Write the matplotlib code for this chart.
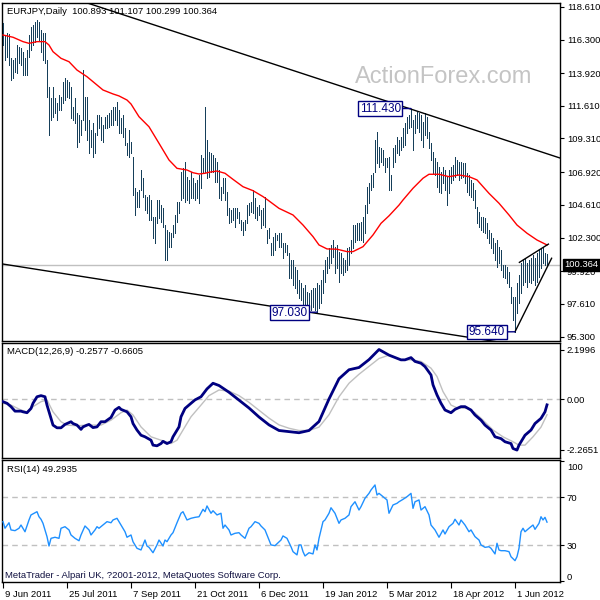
import matplotlib
matplotlib.use("Agg")
import matplotlib.pyplot as plt
from matplotlib.transforms import ScaledTranslation, blended_transform_factory

# ---------------- data ----------------
symbol_title = "EURJPY,Daily  100.893 101.107 100.299 100.364"
macd_title = "MACD(12,26,9) -0.2577 -0.6605"
rsi_title = "RSI(14) 49.2935"
copyright_text = "MetaTrader - Alpari UK, ?2001-2012, MetaQuotes Software Corp."
watermark = "ActionForex.com"

bar_high = [
    117.46, 116.63, 116.75, 116.70, 114.98, 114.86, 114.98, 115.93, 115.81, 115.69,
    115.45, 114.98, 115.57, 116.63, 117.22, 117.34, 117.58, 117.69, 117.58, 116.99,
    116.75, 116.75, 114.86, 112.98, 112.15, 112.98, 112.15, 111.80, 112.39, 112.27,
    113.33, 113.57, 113.45, 113.33, 112.98, 111.56, 112.15, 111.09, 110.97, 110.62,
    114.16, 112.27, 112.27, 110.62, 109.91, 110.39, 109.68, 110.97, 110.97, 110.86,
    110.27, 110.86, 110.97, 111.09, 111.33, 111.56, 111.56, 111.92, 111.33, 110.74,
    110.97, 110.03, 108.97, 109.91, 109.09, 108.03, 105.79, 105.55, 105.67, 107.08,
    106.49, 105.31, 105.20, 105.31, 104.96, 103.78, 103.78, 104.96, 104.96, 104.61,
    104.37, 103.19, 102.84, 102.72, 102.60, 103.19, 103.90, 104.84, 104.84, 106.96,
    107.20, 107.67, 106.61, 106.38, 106.96, 106.49, 106.14, 106.38, 106.73, 108.14,
    107.91, 111.56, 109.20, 108.38, 108.26, 108.14, 107.91, 107.67, 107.08, 105.90,
    106.49, 106.49, 105.55, 104.37, 104.25, 104.37, 104.37, 104.37, 104.14, 103.55,
    103.43, 103.55, 104.61, 104.73, 104.84, 105.67, 105.08, 104.49, 104.61, 104.25,
    104.37, 105.19, 102.84, 102.95, 101.89, 102.37, 102.60, 102.48, 102.60, 102.60,
    101.89, 101.89, 101.78, 101.19, 100.71, 100.71, 100.24, 100.01, 99.30, 99.06,
    98.71, 98.95, 98.48, 98.36, 98.59, 98.71, 98.71, 99.06, 98.95, 99.30,
    100.01, 100.71, 100.95, 101.54, 101.78, 102.13, 101.66, 101.78, 101.30, 101.19,
    100.83, 100.71, 101.54, 101.66, 102.13, 103.19, 103.19, 103.31, 103.31, 103.43,
    103.78, 104.60, 105.90, 106.14, 106.73, 106.84, 109.20, 109.79, 108.73, 108.61,
    108.49, 107.91, 107.91, 108.02, 106.73, 108.62, 108.85, 109.44, 109.20, 109.44,
    110.03, 110.38, 110.85, 110.97, 111.43, 110.62, 110.97, 111.21, 111.09, 110.97,
    110.50, 111.09, 110.85, 109.79, 108.97, 108.38, 107.91, 107.67, 107.32, 106.96,
    107.32, 107.08, 106.61, 107.08, 107.32, 107.44, 108.03, 107.79, 107.67, 107.67,
    107.55, 107.55, 106.85, 106.73, 106.38, 106.14, 105.67, 104.49, 104.14, 103.78,
    103.78, 103.66, 103.31, 102.84, 102.60, 102.25, 101.90, 102.13, 101.66, 101.43,
    100.36, 100.36, 100.25, 99.89, 98.83, 98.12, 98.12, 99.07, 99.66, 100.48,
    100.72, 100.84, 100.48, 100.72, 100.84, 101.07, 100.84, 101.19, 101.43, 101.54,
    101.66, 101.19, 101.107,
]
bar_low = [
    115.93, 114.86, 115.10, 114.51, 113.45, 113.57, 114.04, 113.92, 114.63, 114.51,
    113.80, 113.80, 113.80, 115.10, 115.57, 115.93, 116.16, 116.51, 116.28, 115.45,
    114.86, 114.63, 112.27, 109.56, 110.62, 110.86, 111.09, 110.62, 111.33, 111.33,
    111.80, 112.04, 112.27, 112.15, 110.74, 110.62, 110.39, 108.74, 109.09, 109.56,
    110.62, 109.91, 109.21, 108.26, 108.74, 108.03, 108.26, 109.56, 110.03, 109.21,
    109.09, 110.03, 110.03, 110.15, 110.27, 110.27, 110.62, 110.27, 109.68, 109.68,
    109.44, 108.85, 108.15, 108.03, 108.26, 105.31, 103.90, 104.49, 104.49, 105.67,
    105.20, 104.25, 104.02, 103.55, 103.55, 102.25, 101.90, 103.31, 103.66, 103.43,
    103.08, 100.72, 100.72, 101.66, 101.66, 102.37, 102.60, 103.43, 104.02, 104.96,
    105.08, 104.84, 104.96, 104.73, 105.08, 105.08, 104.96, 105.08, 104.73, 105.79,
    106.96, 106.96, 106.49, 106.61, 106.96, 106.96, 106.26, 106.26, 105.08, 104.96,
    105.43, 104.96, 103.90, 103.31, 103.43, 103.55, 103.08, 103.66, 103.31, 102.84,
    102.49, 102.84, 103.31, 103.90, 104.14, 104.02, 103.66, 103.55, 103.90, 102.96,
    103.19, 103.07, 101.89, 102.25, 101.07, 101.07, 101.42, 102.13, 101.66, 101.66,
    100.83, 101.30, 101.07, 99.42, 99.42, 98.95, 98.71, 98.36, 98.00, 97.89,
    97.41, 97.41, 97.41, 97.20, 97.18, 97.41, 97.18, 97.03, 97.30, 97.65,
    98.36, 99.18, 99.77, 100.13, 100.48, 100.95, 99.77, 100.13, 99.18, 99.77,
    99.65, 99.89, 100.01, 100.36, 101.19, 101.54, 102.01, 102.13, 102.13, 102.13,
    102.01, 102.60, 104.02, 104.72, 105.67, 105.90, 106.96, 107.55, 107.32, 107.67,
    107.43, 106.96, 107.32, 105.67, 105.67, 107.32, 107.67, 108.26, 108.14, 108.50,
    108.73, 108.85, 109.68, 110.03, 110.15, 108.50, 109.68, 110.03, 109.79, 109.20,
    108.73, 109.56, 109.32, 108.62, 107.79, 106.85, 106.73, 105.90, 105.55, 105.43,
    106.14, 105.67, 104.61, 105.43, 106.14, 106.38, 106.61, 106.73, 106.38, 106.49,
    106.61, 106.14, 105.55, 105.31, 105.20, 104.96, 104.37, 103.31, 103.08, 102.84,
    102.72, 102.60, 102.25, 101.90, 101.54, 101.19, 100.72, 100.25, 100.48, 100.01,
    99.54, 99.42, 99.07, 98.83, 97.65, 96.47, 95.64, 96.95, 97.65, 98.36,
    98.95, 99.19, 98.83, 99.19, 99.07, 99.30, 98.95, 99.19, 99.54, 100.13,
    100.48, 100.36, 100.299,
]
last_close = 100.364

ma_idx = [0, 5, 10, 13, 17, 21, 23, 25, 29, 33, 37, 42, 46, 50, 55, 58, 62, 64, 68, 73,
          78, 83, 87, 92, 95, 98, 101, 103, 107, 111, 115, 120, 125, 130, 132, 138, 145, 150, 155, 158,
          162, 167, 172, 175, 180, 185, 189, 193, 198, 200, 205, 210, 213, 218, 223, 228, 233, 237, 243, 248,
          253, 257, 262, 267, 272]
ma_val = [116.63, 116.47, 116.16, 116.04, 116.16, 116.16, 115.92, 115.45, 114.98, 114.74,
          114.15, 113.68, 113.21, 112.74, 112.46, 112.32, 112.03, 111.75, 110.85, 110.14,
          108.97, 107.79, 107.20, 107.08, 106.89, 106.80, 106.85, 106.92, 107.01, 106.85,
          106.42, 105.90, 105.62, 105.20, 105.00, 104.37, 103.90, 103.19, 102.37, 101.78,
          101.50, 101.48, 101.31, 101.31, 101.66, 102.49, 103.31, 103.84, 104.60, 104.96,
          105.79, 106.50, 106.78, 106.78, 106.61, 106.73, 106.61, 106.38, 105.43, 104.73,
          103.90, 103.19, 102.61, 102.13, 101.78]

# trendlines (bar index, price)
upper_trend = [(98.5, 116.28), (278.5, 107.93)]
lower_trend = [(0.0, 100.43), (235.0, 95.20)]
wedge_low = [(256.0, 95.64), (274.3, 100.84)]
wedge_high = [(258.2, 100.55), (272.7, 101.84)]

# price labels: text, text position (idx, price), target bar (idx, price)
price_marks = [("111.430", (188.7, 111.43), (204, 111.43)),
               ("97.030", (143.3, 96.98), (157, 97.03)),
               ("95.640", (242.0, 95.63), (256, 95.64))]

price_ticks = [118.61, 116.30, 113.92, 111.61, 109.31, 106.92, 104.61, 102.30, 99.92, 97.61, 95.30]
price_tick_labels = ["118.610", "116.300", "113.920", "111.610", "109.310", "106.920",
                     "104.610", "102.300", "99.920", "97.610", "95.300"]

macd_idx = [0, 2, 4, 6, 9, 10, 12, 14, 15, 17, 19, 21, 22, 24, 25, 27, 29, 31, 34, 35,
            37, 39, 40, 42, 43, 45, 47, 49, 51, 54, 56, 58, 59, 62, 64, 65, 67, 69, 71, 74,
            75, 77, 79, 80, 82, 84, 85, 88, 89, 91, 94, 96, 99, 102, 105, 108, 113, 118, 123, 128,
            133, 138, 143, 148, 153, 158, 163, 168, 173, 178, 183, 188, 193, 199, 201, 204, 206, 209,
            211, 214, 215, 217, 219, 221, 224, 226, 229, 231, 234, 236, 239, 241, 244, 246, 249, 251, 254, 255,
            257, 258, 261, 264, 266, 269, 271, 272]
macd_main = [-0.12, -0.19, -0.34, -0.54, -0.54, -0.57, -0.61, -0.42, -0.19, 0.10,
             0.15, 0.10, -0.27, -0.86, -1.16, -1.28, -1.28, -1.13, -1.01, -1.09,
             -1.16, -1.35, -1.24, -1.16, -1.13, -1.27, -1.24, -1.01, -1.01, -0.82,
             -0.49, -0.37, -0.46, -0.57, -0.79, -1.09, -1.38, -1.61, -1.68, -1.83,
             -2.05, -2.08, -1.98, -1.88, -1.98, -1.90, -1.68, -1.24, -0.79, -0.42,
             -0.19, -0.04, 0.10, 0.45, 0.70, 0.60, 0.30, -0.05, -0.40, -0.80,
             -1.15, -1.40, -1.45, -1.50, -1.40, -1.00, 0.00, 0.90, 1.30, 1.40,
             1.75, 2.20, 1.95, 1.74, 1.74, 1.84, 1.67, 1.59,
             1.44, 1.07, 0.63, 0.18, -0.19, -0.49, -0.61, -0.46, -0.34, -0.34,
             -0.49, -0.71, -0.94, -1.16, -1.38, -1.68, -1.76, -1.90, -1.98, -2.20,
             -2.27, -2.05, -1.61, -1.38, -1.09, -0.86, -0.57, -0.26]
sig_idx = [0, 4, 9, 12, 15, 19, 22, 25, 29, 32, 37, 42, 49, 54, 59, 62, 65, 69, 74, 79,
           84, 87, 90, 94, 99, 103, 108, 113, 118, 123, 128, 133, 138, 143, 148, 153, 158, 163, 168, 173,
           178, 183, 188, 193, 199, 204, 209, 214, 217, 220, 224, 227, 232, 236, 240, 245, 250, 255, 258, 261,
           265, 269, 272]
macd_signal = [-0.19, -0.27, -0.49, -0.57, -0.34, -0.12, -0.04, -0.57, -1.01, -1.16,
               -1.19, -1.16, -1.16, -0.94, -0.61, -0.49, -0.71, -1.24, -1.68, -1.83,
               -1.98, -1.83, -1.38, -0.79, -0.27, 0.15, 0.40, 0.35, 0.15, -0.15,
               -0.50, -0.85, -1.15, -1.30, -1.40, -1.40, -1.25, -0.70, 0.10, 0.70,
               1.10, 1.45, 1.80, 1.95, 1.74, 1.74, 1.67, 1.37, 1.00, 0.33,
               -0.27, -0.39, -0.42, -0.61, -0.94, -1.38, -1.68, -1.90, -2.05, -2.05,
               -1.68, -1.25, -0.70]
macd_ticks = [2.1996, 0.0, -2.2651]
macd_tick_labels = ["2.1996", "0.00", "-2.2651"]

rsi_idx = [0, 1, 3, 4, 6, 8, 9, 11, 13, 14, 17, 18, 19, 20, 22, 23, 24, 26, 28, 29,
           31, 33, 34, 36, 38, 39, 41, 43, 44, 46, 47, 48, 50, 52, 54, 55, 57, 59, 61, 62,
           64, 65, 67, 69, 71, 72, 73, 75, 77, 78, 80, 81, 82, 84, 85, 87, 89, 90, 92, 94,
           96, 98, 100, 101, 102, 104, 105, 107, 109, 110, 111, 113, 114, 116, 118, 119, 121, 123, 124, 126,
           128, 129, 131, 133, 134, 136, 139, 140, 142, 144, 145, 147, 148, 149, 150, 151, 153, 155, 156, 157,
           158, 160, 161, 163, 164, 166, 168, 169, 171, 173, 174, 176, 178, 179, 181, 183, 184, 186, 187, 188,
           190, 192, 193, 195, 197, 198, 200, 202, 204, 205, 206, 208, 209, 211, 213, 214, 216, 218, 220, 221,
           223, 225, 226, 228, 229, 231, 233, 234, 236, 238, 239, 241, 243, 244, 246, 247, 248, 249, 251, 253,
           254, 256, 257, 258, 259, 260, 261, 263, 265, 266, 268, 269, 270, 271, 272]
rsi_val = [49.7, 44.2, 48.8, 42.8, 42.2, 44.2, 46.9, 41.3, 51.1, 55.3, 58.0, 53.8, 51.7, 48.3, 37.2, 29.4, 35.8, 36.7, 35.8, 44.2,
           45.5, 42.8, 38.6, 35.8, 33.8, 38.6, 46.1, 42.8, 38.6, 42.8, 45.5, 44.2, 46.9, 49.7, 48.8, 51.1, 52.5, 46.9, 41.3, 36.7,
           38.6, 33.0, 27.5, 26.1, 34.4, 29.4, 28.3, 23.8, 30.3, 34.4, 29.4, 34.4, 33.0, 38.6, 40.5, 48.8, 56.7, 58.0, 51.1, 52.5,
           53.3, 53.8, 60.0, 58.0, 62.8, 56.7, 58.8, 55.3, 56.7, 44.2, 46.9, 42.8, 38.6, 40.0, 40.5, 38.6, 35.8, 44.2, 45.5, 49.7,
           48.3, 46.1, 42.8, 34.4, 30.3, 29.7, 34.4, 37.8, 35.8, 28.8, 24.7, 22.0, 30.3, 30.3, 24.7, 21.1, 23.8, 22.8, 30.3, 26.1,
           35.8, 49.7, 51.1, 56.7, 61.3, 56.7, 48.3, 51.1, 52.5, 55.3, 62.2, 66.3, 59.4, 62.2, 69.2, 73.3, 76.1, 80.3, 71.9, 73.3,
           70.5, 67.8, 56.7, 63.6, 65.0, 66.3, 68.3, 70.5, 73.3, 60.8, 66.3, 67.8, 59.4, 62.2, 55.3, 46.9, 42.8, 36.7, 42.8, 39.4,
           45.5, 48.3, 51.7, 46.9, 51.1, 46.9, 41.3, 42.8, 37.2, 34.4, 30.3, 28.3, 28.8, 27.5, 22.8, 31.7, 26.1, 25.5, 25.5, 24.7,
           20.5, 17.2, 20.5, 27.5, 41.3, 44.2, 41.3, 44.2, 46.9, 43.3, 48.3, 53.8, 51.1, 53.3, 49.3]
rsi_levels = [70, 30]
rsi_ticks = [100, 70, 30, 0]
rsi_tick_labels = ["100", "70", "30", "0"]

date_idx = [0, 32, 64, 96, 128, 160, 192, 224, 256]
date_labels = ["9 Jun 2011", "25 Jul 2011", "7 Sep 2011", "21 Oct 2011", "6 Dec 2011",
               "19 Jan 2012", "5 Mar 2012", "18 Apr 2012", "1 Jun 2012"]

# ---------------- style ----------------
FONT = ["Liberation Sans", "DejaVu Sans"]
FS = 6.8
BAR_C = "#163f5a"
NAVY = "#000080"
GREY = "#c0c0c0"
W = H = 600

fig = plt.figure(figsize=(6, 6), dpi=100, facecolor="white")


def rect(x0, y0, x1, y1):
    return [x0 / W, 1 - y1 / H, (x1 - x0) / W, (y1 - y0) / H]


axp = fig.add_axes(rect(2, 2.5, 560, 341))
axm = fig.add_axes(rect(2, 343, 560, 458))
axr = fig.add_axes(rect(2, 460, 560, 582))

n = len(bar_high)
idx = list(range(n))
xlim = (-0.5, 278.5)

for ax in (axp, axm, axr):
    ax.set_xlim(*xlim)
    ax.set_facecolor("white")
    for s in ax.spines.values():
        s.set_linewidth(1.0)
        s.set_color("black")
    ax.yaxis.tick_right()
    ax.tick_params(axis="y", direction="out", length=3, width=0.8, pad=2,
                   labelsize=FS, colors="black")
    ax.set_xticks([])

# price panel
axp.set_ylim(94.988, 118.928)
axp.axhline(last_close, color=GREY, lw=1.0, zorder=1)
axp.vlines(idx, bar_low, bar_high, color=BAR_C, lw=0.5, zorder=3,
           antialiased=False, snap=True)
axp.plot(ma_idx, ma_val, color="#ff0000", lw=1.0, zorder=4)


def extend(p, q, x0, x1):
    (xa, ya), (xb, yb) = p, q
    s = (yb - ya) / (xb - xa)
    return [x0, x1], [ya + s * (x0 - xa), ya + s * (x1 - xa)]


for line in (upper_trend, lower_trend):
    xs, ys = extend(line[0], line[1], xlim[0], xlim[1])
    axp.plot(xs, ys, color="black", lw=1.0, zorder=5)
for seg in (wedge_low, wedge_high):
    axp.plot([seg[0][0], seg[1][0]], [seg[0][1], seg[1][1]], color="black", lw=1.0, zorder=5)

for txt, tpos, target in price_marks:
    axp.annotate(txt, xy=target, xytext=tpos, ha="center", va="center",
                 fontsize=8.5, color=NAVY, family=FONT, zorder=7,
                 bbox=dict(boxstyle="square,pad=0.12", fc="white", ec=NAVY, lw=1.0),
                 arrowprops=dict(arrowstyle="-", color=NAVY, lw=1.0,
                                 shrinkA=0, shrinkB=0))

axp.set_yticks(price_ticks)
axp.set_yticklabels(price_tick_labels, family=FONT)
axp.annotate(f"{last_close:.3f}", xy=(1.0, last_close),
             xycoords=blended_transform_factory(axp.transAxes, axp.transData),
             xytext=(4, 0), textcoords="offset pixels", ha="left", va="center",
             fontsize=FS, color="white", family=FONT, zorder=10, annotation_clip=False,
             bbox=dict(boxstyle="square,pad=0.15", fc="black", ec="black"))

# MACD panel
axm.set_ylim(-2.622, 2.489)
axm.axhline(0, color=GREY, lw=1.0, ls=(0, (4, 3)), zorder=1)
axm.plot(sig_idx, macd_signal, color=GREY, lw=1.0, zorder=2)
axm.plot(macd_idx, macd_main, color=NAVY, lw=2.0, zorder=3)
axm.set_yticks(macd_ticks)
axm.set_yticklabels(macd_tick_labels, family=FONT)
axm.text(5 / 558, 1 - 9 / 115, macd_title, transform=axm.transAxes, ha="left", va="center",
         fontsize=FS, family=FONT, color="black")

# RSI panel
axr.set_ylim(-0.6, 101.1)
for lv in rsi_levels:
    axr.axhline(lv, color=GREY, lw=1.0, ls=(0, (4, 3)), zorder=1)
axr.plot(rsi_idx, rsi_val, color="#1e90ff", lw=1.0, zorder=3)
axr.set_yticks(rsi_ticks)
axr.set_yticklabels(rsi_tick_labels, family=FONT)
for lab, val in zip(axr.get_yticklabels(), rsi_ticks):
    if val == 100:
        lab.set_transform(lab.get_transform() + ScaledTranslation(0, -5 / 100, fig.dpi_scale_trans))
    elif val == 0:
        lab.set_transform(lab.get_transform() + ScaledTranslation(0, 5 / 100, fig.dpi_scale_trans))
axr.text(5 / 558, 1 - 9 / 122, rsi_title, transform=axr.transAxes, ha="left", va="center",
         fontsize=FS, family=FONT, color="black")
axr.set_xticks(date_idx)
axr.set_xticklabels(date_labels, family=FONT, ha="left")
axr.tick_params(axis="x", direction="out", length=4, width=0.8, pad=1.5, labelsize=FS)
for lab in axr.get_xticklabels():
    lab.set_transform(lab.get_transform() + ScaledTranslation(2 / 100, 0, fig.dpi_scale_trans))

fig.text(5 / W, 1 - 576 / H, copyright_text, ha="left", va="center", fontsize=FS,
         family=FONT, color="#101040")
fig.text(7 / W, 1 - 11 / H, symbol_title, ha="left", va="center", fontsize=FS,
         family=FONT, color="black", zorder=10)
fig.text(444 / W, 1 - 77 / H, watermark, ha="center", va="center", fontsize=17,
         family=FONT, color="#c4c4c4", zorder=10)

fig.savefig("out.png", dpi=100, facecolor="white")
